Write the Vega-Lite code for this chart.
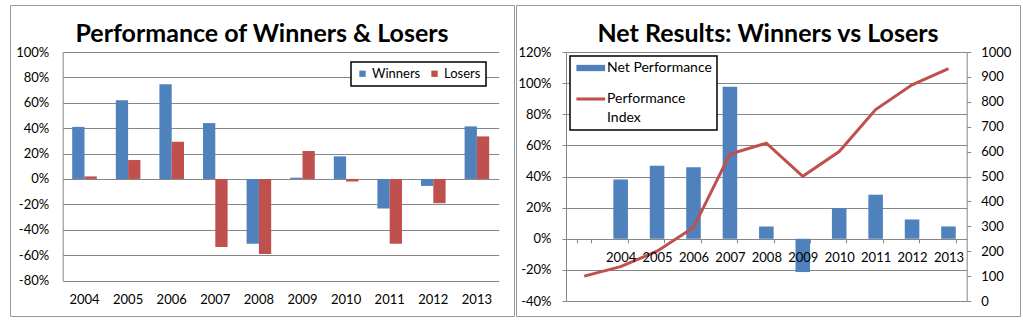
{
  "$schema": "https://vega.github.io/schema/vega-lite/v6.json",
  "padding": {"left": 9, "top": 4, "right": 5, "bottom": 5},
  "spacing": 0,
  "resolve": {"scale": {"color": "independent"}, "legend": {"color": "independent"}},
  "config": {
    "locale": {"number": {"decimal": ".", "thousands": ",", "grouping": [3], "currency": ["$", ""], "minus": "-"}},
    "font": "Lato",
    "view": {"stroke": "#9a9a9a", "strokeWidth": 1},
    "axis": {"labelFont": "Lato", "labelFontSize": 13, "labelColor": "#000000", "gridColor": "#868686", "domainColor": "#868686", "tickColor": "#868686", "title": null, "gridOpacity": 1},
    "legend": {"labelFont": "Lato", "labelColor": "#000000", "title": null}
  },
  "hconcat": [
    {
      "width": 504,
      "height": 311,
      "title": {"text": "Performance of Winners & Losers", "font": "Lato", "fontSize": 25, "fontWeight": "bold", "color": "#000000", "anchor": "middle", "baseline": "alphabetic", "offset": -62},
      "data": {"values": [
        {"year": "2004", "series": "Winners", "value": 0.41},
        {"year": "2004", "series": "Losers", "value": 0.02},
        {"year": "2005", "series": "Winners", "value": 0.62},
        {"year": "2005", "series": "Losers", "value": 0.149},
        {"year": "2006", "series": "Winners", "value": 0.745},
        {"year": "2006", "series": "Losers", "value": 0.293},
        {"year": "2007", "series": "Winners", "value": 0.44},
        {"year": "2007", "series": "Losers", "value": -0.537},
        {"year": "2008", "series": "Winners", "value": -0.51},
        {"year": "2008", "series": "Losers", "value": -0.592},
        {"year": "2009", "series": "Winners", "value": 0.01},
        {"year": "2009", "series": "Losers", "value": 0.22},
        {"year": "2010", "series": "Winners", "value": 0.178},
        {"year": "2010", "series": "Losers", "value": -0.02},
        {"year": "2011", "series": "Winners", "value": -0.233},
        {"year": "2011", "series": "Losers", "value": -0.51},
        {"year": "2012", "series": "Winners", "value": -0.055},
        {"year": "2012", "series": "Losers", "value": -0.191},
        {"year": "2013", "series": "Winners", "value": 0.414},
        {"year": "2013", "series": "Losers", "value": 0.335}
      ]},
      "mark": {"type": "bar"},
      "encoding": {
        "x": {"field": "year", "type": "nominal", "sort": null,
          "scale": {"range": [52.7, 488.7], "paddingInner": 0.436, "paddingOuter": 0.218},
          "axis": {"orient": "bottom", "offset": -35.5, "domain": false, "ticks": false, "tickSize": 0, "labelPadding": 13, "labelAngle": 0, "grid": false}},
        "xOffset": {"field": "series", "type": "nominal", "sort": ["Winners", "Losers"], "scale": {"paddingInner": 0, "paddingOuter": 0}},
        "y": {"field": "value", "type": "quantitative",
          "scale": {"domain": [-0.8, 1.0], "range": [275.5, 47], "nice": false},
          "axis": {"orient": "left", "offset": -52.7, "values": [-0.8, -0.6, -0.4, -0.2, 0, 0.2, 0.4, 0.6, 0.8, 1.0], "format": ".0%", "grid": true, "ticks": false, "tickSize": 0, "labelPadding": 14, "domain": true}},
        "color": {"field": "series", "type": "nominal", "sort": ["Winners", "Losers"],
          "scale": {"domain": ["Winners", "Losers"], "range": ["#4F81BD", "#C0504D"]},
          "legend": {"orient": "none", "legendX": 341, "legendY": 57, "direction": "horizontal", "fillColor": "#ffffff", "strokeColor": "#000000", "padding": 5, "symbolType": "square", "symbolSize": 40, "symbolStrokeWidth": 0, "labelFontSize": 13, "labelOffset": 3, "columnPadding": 7,
            "encode": {"legend": {"update": {"strokeWidth": {"value": 1.5}}}}}}
      }
    },
    {
      "width": 504,
      "height": 311,
      "title": {"text": "Net Results: Winners vs Losers", "font": "Lato", "fontSize": 25, "fontWeight": "bold", "color": "#000000", "anchor": "middle", "baseline": "alphabetic", "offset": -62},
      "data": {"values": [
        {"year": "", "net": null, "index": 100},
        {"year": "2004", "net": 0.381, "index": 138},
        {"year": "2005", "net": 0.469, "index": 200},
        {"year": "2006", "net": 0.46, "index": 295},
        {"year": "2007", "net": 0.976, "index": 590},
        {"year": "2008", "net": 0.079, "index": 634},
        {"year": "2009", "net": -0.214, "index": 501},
        {"year": "2010", "net": 0.197, "index": 600},
        {"year": "2011", "net": 0.283, "index": 769},
        {"year": "2012", "net": 0.124, "index": 868},
        {"year": "2013", "net": 0.079, "index": 933}
      ]},
      "encoding": {
        "x": {"field": "year", "type": "nominal", "sort": null,
          "scale": {"domain": ["", "2004", "2005", "2006", "2007", "2008", "2009", "2010", "2011", "2012", "2013"], "range": [50, 450.7], "paddingInner": 0.6, "paddingOuter": 0.3},
          "axis": {"orient": "bottom", "offset": -77.25, "domain": false, "ticks": true, "tickBand": "extent", "tickSize": 4, "labelPadding": 9, "labelAngle": 0, "grid": false, "zindex": 2}}
      },
      "layer": [
        {
          "mark": {"type": "bar"},
          "encoding": {
            "y": {"field": "net", "type": "quantitative",
              "scale": {"domain": [-0.4, 1.2], "range": [296, 47], "nice": false},
              "axis": {"orient": "left", "offset": -50, "values": [-0.4, -0.2, 0, 0.2, 0.4, 0.6, 0.8, 1.0, 1.2], "format": ".0%", "grid": true, "tickSize": 4, "labelPadding": 11, "domain": true}},
            "color": {"datum": "Net Performance", "type": "nominal",
              "scale": {"domain": ["Net Performance", "Performance Index"], "range": ["#4F81BD", "#C0504D"]},
              "legend": {"orient": "none", "legendX": 54, "legendY": 51, "direction": "vertical", "fillColor": "#ffffff", "strokeColor": "#000000", "padding": 5, "symbolSize": 196, "labelFontSize": 14, "labelOffset": 18, "rowPadding": 17,
                "labelExpr": "datum.label == 'Performance Index' ? ['Performance', 'Index'] : datum.label",
                "encode": {
                  "legend": {"update": {"strokeWidth": {"value": 1.5}}},
                  "symbols": {"update": {
                    "shape": {"signal": "datum.value == 'Net Performance' ? 'M-0.8,-0.45H3.3V0.45H-0.8Z' : 'M-0.8,-0.22H3.3V0.22H-0.8Z'"},
                    "fill": {"signal": "datum.value == 'Net Performance' ? '#4F81BD' : '#C0504D'"},
                    "stroke": {"value": "transparent"},
                    "strokeWidth": {"value": 0},
                    "opacity": {"value": 1}
                  }},
                  "labels": {"update": {"lineHeight": {"value": 18.5}}}
                }}}
          }
        },
        {
          "mark": {"type": "line", "strokeWidth": 3},
          "encoding": {
            "y": {"field": "index", "type": "quantitative",
              "scale": {"domain": [0, 1000], "range": [296, 47], "nice": false},
              "axis": {"orient": "right", "offset": -53.3, "values": [0, 100, 200, 300, 400, 500, 600, 700, 800, 900, 1000], "format": "d", "grid": false, "tickSize": 4, "labelPadding": 10, "domain": true}},
            "color": {"datum": "Performance Index", "type": "nominal"}
          }
        }
      ],
      "resolve": {"scale": {"y": "independent"}}
    }
  ]
}
